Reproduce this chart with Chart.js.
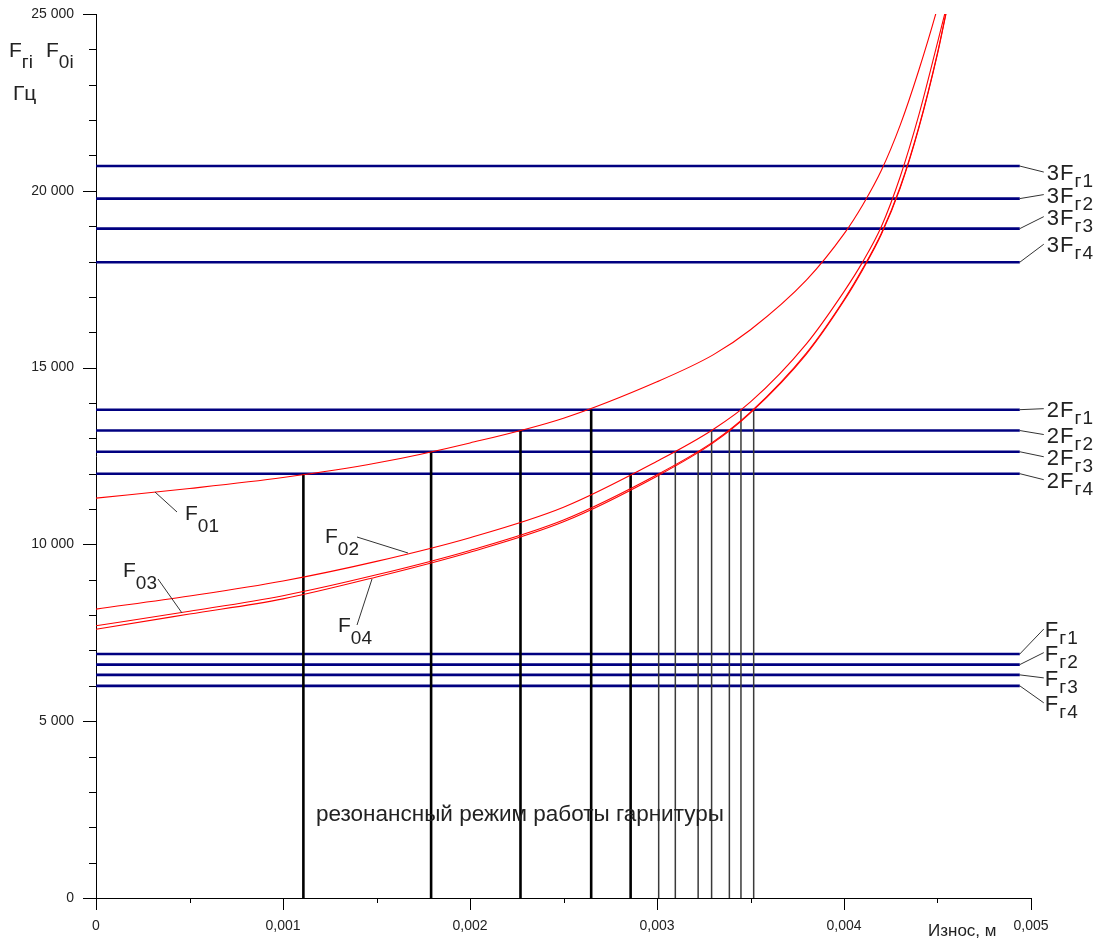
<!DOCTYPE html>
<html>
<head>
<meta charset="utf-8">
<script src="https://cdn.jsdelivr.net/npm/chart.js@4.4.0/dist/chart.umd.min.js"></script>
<style>
  html, body { margin: 0; padding: 0; background: #fff; }
  canvas { display: block; }
</style>
</head>
<body>
<canvas id="chart" width="1100" height="940"></canvas>
<script>
const FONT = '"Liberation Sans", Arial, sans-serif';
const INK = "#222";

// износ, м (x for the F0 curves)
const WEAR = [0, 0.0005, 0.001, 0.0015, 0.002, 0.0025, 0.003, 0.0033, 0.0035, 0.0038, 0.004, 0.0041, 0.0042, 0.0043, 0.0044, 0.0045, 0.00455];
const F01 = [11310, 11580, 11890, 12300, 12870, 13570, 14600, 15360, 16070, 17480, 18780, 19600, 20580, 21850, 23410, 25180, 26200];
const F02 = [8170, 8540, 8965, 9520, 10190, 11050, 12350, 13250, 14030, 15680, 17150, 17990, 18990, 20390, 22140, 24190, 25240];
const F03 = [7700, 8110, 8550, 9140, 9830, 10690, 11970, 12900, 13740, 15420, 16920, 17800, 18800, 20100, 21800, 23900, 25150];
const F04 = [7600, 8030, 8460, 9080, 9780, 10640, 11930, 12870, 13720, 15390, 16890, 17770, 18770, 20070, 21770, 23870, 25120];

// Fг1..Fг4 and their 2nd / 3rd harmonics, Гц
const FG_1 = [6900, 6600, 6310, 6000];
const FG_2 = [13810, 13220, 12620, 12000];
const FG_3 = [20700, 19780, 18930, 17980];
const LINE_END = 0.00494;

// resonance points: wear where a curve meets a harmonic
const CROSS_X = [0.001109, 0.001792, 0.00227, 0.002648, 0.002859, 0.003009, 0.003098, 0.00322, 0.003292, 0.003387, 0.003449, 0.003517];
const CROSS_F = [12000, 12620, 13220, 13810, 12000, 12000, 12620, 12620, 13220, 13220, 13810, 13810];
const BOLD_CROSSES = 5;

const pts = (xs, ys) => xs.map((x, i) => ({ x, y: ys[i] }));

const datasets = [];
[F01, F02, F03, F04].forEach((f) => {
  datasets.push({ data: pts(WEAR, f), borderColor: "#ff0000", borderWidth: 1.1, cubicInterpolationMode: "monotone", order: 1 });
});
CROSS_X.forEach((cx, i) => {
  const bold = i < BOLD_CROSSES;
  datasets.push({ data: [{ x: cx, y: 0 }, { x: cx, y: CROSS_F[i] }], borderColor: bold ? "#000" : "#3a3a3a", borderWidth: bold ? 2.6 : 1.5, order: 2 });
});
[FG_1, FG_2, FG_3].forEach((levels) => {
  levels.forEach((v) => {
    datasets.push({ data: [{ x: 0, y: v }, { x: LINE_END, y: v }], borderColor: "#000080", borderWidth: 2.6, order: 3 });
  });
});

function subText(ctx, x, y, main, small, size, smallSize, drop) {
  ctx.font = `${size}px ${FONT}`;
  ctx.fillText(main, x, y);
  const w = ctx.measureText(main).width;
  ctx.font = `${smallSize}px ${FONT}`;
  ctx.fillText(small, x + w, y + drop);
}

function leader(ctx, x1, y1, x2, y2) {
  ctx.beginPath();
  ctx.moveTo(x1, y1);
  ctx.lineTo(x2, y2);
  ctx.stroke();
}

const isMult = (v, step) => Math.abs(v / step - Math.round(v / step)) < 1e-6;

const decorations = {
  id: "decorations",
  afterDraw(chart) {
    const { ctx, chartArea: a } = chart;
    const { x, y } = chart.scales;
    ctx.save();

    // outward ticks, long for labelled values
    ctx.strokeStyle = "#000";
    ctx.lineWidth = 1;
    ctx.beginPath();
    y.ticks.forEach((t) => {
      const py = Math.round(y.getPixelForValue(t.value)) + 0.5;
      const len = isMult(t.value, 5000) ? 13 : 7;
      ctx.moveTo(a.left - len, py);
      ctx.lineTo(a.left, py);
    });
    x.ticks.forEach((t) => {
      const px = Math.round(x.getPixelForValue(t.value)) + 0.5;
      const len = isMult(t.value, 0.001) ? 12 : 5;
      ctx.moveTo(px, a.bottom);
      ctx.lineTo(px, a.bottom + len);
    });
    ctx.stroke();

    ctx.fillStyle = INK;
    ctx.strokeStyle = "#333";
    ctx.textAlign = "left";
    ctx.textBaseline = "alphabetic";

    // harmonic labels at the right
    const rows = [
      [FG_3, "3", [14, 4, -4, -10]],
      [FG_2, "2", [7, 12, 13, 14]],
      [FG_1, "", [-17, -4, 11, 25]],
    ];
    ctx.letterSpacing = "1px";
    rows.forEach(([levels, n, dy]) => {
      levels.forEach((v, i) => {
        const lx = x.getPixelForValue(LINE_END);
        const ly = y.getPixelForValue(v);
        const base = ly + dy[i];
        leader(ctx, lx, ly, lx + 24, base - 8);
        subText(ctx, n ? lx + 27 : lx + 25, base, n + "F", "г" + (i + 1), 22, 19, 7);
      });
    });
    ctx.letterSpacing = "0px";

    // curve labels
    leader(ctx, 155, 492, 177, 512);
    subText(ctx, 185, 520, "F", "01", 21, 19, 12);
    leader(ctx, 357, 537, 408, 553);
    subText(ctx, 325, 543, "F", "02", 21, 19, 12);
    leader(ctx, 158, 579, 182, 613);
    subText(ctx, 123, 577, "F", "03", 21, 19, 12);
    leader(ctx, 372, 579, 357, 625);
    subText(ctx, 338, 632, "F", "04", 21, 19, 12);

    // axis titles
    subText(ctx, 9, 57, "F", "гi", 21, 19, 11);
    subText(ctx, 46, 57, "F", "0i", 21, 19, 11);
    ctx.font = `21px ${FONT}`;
    ctx.fillText("Гц", 13, 100);
    ctx.font = `17px ${FONT}`;
    ctx.fillText("Износ, м", 928, 936);

    // caption
    const caption = "резонансный режим работы гарнитуры";
    ctx.font = `19px ${FONT}`;
    const size = 19 * 408 / ctx.measureText(caption).width;
    ctx.font = `${size.toFixed(1)}px ${FONT}`;
    ctx.fillText(caption, 316, 821);

    ctx.restore();
  },
};

const tickFont = { family: FONT, size: 14 };

new Chart(document.getElementById("chart"), {
  type: "line",
  data: { datasets },
  plugins: [decorations],
  options: {
    responsive: false,
    animation: false,
    events: [],
    layout: { padding: { top: 14, right: 69, left: 0, bottom: 0 } },
    elements: { point: { radius: 0 }, line: { tension: 0 } },
    plugins: { legend: { display: false }, tooltip: { enabled: false } },
    scales: {
      x: {
        type: "linear",
        min: 0,
        max: 0.005,
        grid: { display: false, drawTicks: false },
        border: { display: true, color: "#000", width: 1 },
        ticks: {
          stepSize: 0.0005,
          autoSkip: false,
          maxRotation: 0,
          padding: 20,
          color: INK,
          font: tickFont,
          callback: (v) => (isMult(v, 0.001) ? (v === 0 ? "0" : v.toFixed(3).replace(".", ",")) : ""),
        },
        afterFit: (s) => { s.height = 42; s.paddingLeft = 0; s.paddingRight = 0; },
      },
      y: {
        min: 0,
        max: 25000,
        grid: { display: false, drawTicks: false },
        border: { display: true, color: "#000", width: 1 },
        ticks: {
          stepSize: 1000,
          autoSkip: false,
          padding: 22,
          color: INK,
          font: tickFont,
          callback: (v) => (isMult(v, 5000) ? String(v).replace(/\B(?=(\d{3})+(?!\d))/g, " ") : ""),
        },
        afterFit: (s) => { s.width = 96; s.paddingTop = 0; s.paddingBottom = 0; },
      },
    },
  },
});
</script>
</body>
</html>
